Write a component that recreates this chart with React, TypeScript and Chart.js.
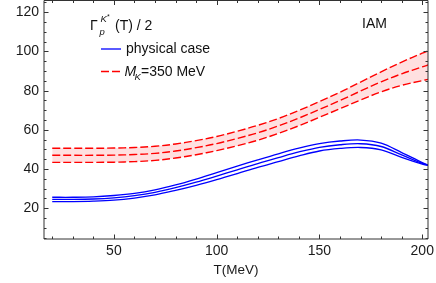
import React, { useEffect, useRef } from "react";
import { Chart, registerables } from "chart.js";

Chart.register(...registerables);

// Temperature grid (MeV)
const temps = [20, 30, 40, 50, 60, 70, 80, 90, 100, 110, 120, 130, 140, 150, 160, 170, 180, 190, 200, 203];

// M_K = 350 MeV band (upper / central / lower)
const redUpper = [50.6, 50.6, 50.6, 50.7, 51.0, 51.6, 52.8, 54.5, 56.6, 59.3, 62.3, 65.8, 69.9, 74.4, 79.2, 84.4, 89.6, 94.6, 99.1, 100.4];
const redMid = [47.0, 47.0, 47.0, 47.1, 47.4, 48.0, 49.2, 50.9, 53.0, 55.6, 58.5, 62.0, 66.0, 70.4, 75.0, 79.8, 84.5, 88.6, 92.1, 93.1];
const redLower = [43.4, 43.4, 43.4, 43.5, 43.8, 44.4, 45.6, 47.3, 49.4, 51.9, 54.7, 58.2, 62.1, 66.4, 70.8, 75.2, 79.4, 82.7, 85.1, 85.8];

// physical case (upper / central / lower)
const blueUpper = [25.6, 25.6, 25.8, 26.5, 27.6, 29.4, 31.9, 34.9, 38.2, 41.5, 44.7, 47.8, 50.7, 53.0, 54.3, 54.8, 53.2, 48.4, 43.3, 42.0];
const blueMid = [24.5, 24.5, 24.7, 25.3, 26.4, 28.1, 30.5, 33.3, 36.4, 39.6, 42.8, 45.8, 48.7, 51.1, 52.4, 52.9, 51.5, 47.2, 42.9, 41.9];
const blueLower = [23.4, 23.4, 23.6, 24.1, 25.2, 26.8, 29.1, 31.7, 34.6, 37.7, 40.9, 43.8, 46.7, 49.2, 50.5, 51.0, 49.8, 46.0, 42.5, 41.8];

// ticks
const xMajor = [50, 100, 150, 200];
const xMinor = [20, 30, 40, 60, 70, 80, 90, 110, 120, 130, 140, 160, 170, 180, 190];
const yMajor = [20, 40, 60, 80, 100, 120];
const yMinor = [5, 10, 15, 25, 30, 35, 45, 50, 55, 65, 70, 75, 85, 90, 95, 105, 110, 115, 125];

const X_MIN = 16;
const X_MAX = 202.8;
const Y_MIN = 4.3;
const Y_MAX = 126;

const FONT = "'Liberation Sans', Arial, sans-serif";
const RED = "rgb(255,0,0)";
const BLUE = "rgb(0,0,255)";
const DASH = [8, 3];

const pts = (ys: number[]) => temps.map((t, i) => ({ x: t, y: ys[i] }));

const framePlugin = {
  id: "frameTicks",
  afterDraw(chart: any) {
    const { ctx, chartArea } = chart;
    const { left, right, top, bottom } = chartArea;
    const xs = chart.scales.x;
    const ys = chart.scales.y;
    ctx.save();
    ctx.strokeStyle = "#333";
    ctx.lineWidth = 1;
    ctx.beginPath();
    ctx.rect(left, top, right - left, bottom - top);
    ctx.stroke();
    const majLen = 4.5;
    const minLen = 2.5;
    ctx.beginPath();
    const xt = (v: number, len: number) => {
      const px = Math.round(xs.getPixelForValue(v)) + 0.5;
      ctx.moveTo(px, bottom);
      ctx.lineTo(px, bottom - len);
      ctx.moveTo(px, top);
      ctx.lineTo(px, top + len);
    };
    const yt = (v: number, len: number) => {
      const py = Math.round(ys.getPixelForValue(v)) + 0.5;
      ctx.moveTo(left, py);
      ctx.lineTo(left + len, py);
      ctx.moveTo(right, py);
      ctx.lineTo(right - len, py);
    };
    xMajor.forEach((v) => xt(v, majLen));
    xMinor.forEach((v) => xt(v, minLen));
    yMajor.forEach((v) => yt(v, majLen));
    yMinor.forEach((v) => yt(v, minLen));
    ctx.stroke();

    // Legend / annotations
    ctx.fillStyle = "#111";
    ctx.textBaseline = "alphabetic";
    ctx.textAlign = "left";
    ctx.font = `14px ${FONT}`;
    ctx.fillText("\u0393", 90, 30);
    ctx.font = `italic 9.5px ${FONT}`;
    ctx.fillText("p", 99.5, 35);
    ctx.fillText("K", 100.5, 22);
    ctx.font = `7px ${FONT}`;
    ctx.fillText("*", 107, 19);
    ctx.font = `14px ${FONT}`;
    ctx.fillText("(T) / 2", 115, 30);

    ctx.fillText("IAM", 362, 28.3);

    // blue sample
    ctx.strokeStyle = BLUE;
    ctx.lineWidth = 1.3;
    ctx.beginPath();
    ctx.moveTo(101, 49);
    ctx.lineTo(121, 49);
    ctx.stroke();
    ctx.fillText("physical case", 126, 52.5);

    // red sample
    ctx.strokeStyle = RED;
    ctx.lineWidth = 1.4;
    ctx.setLineDash(DASH);
    ctx.beginPath();
    ctx.moveTo(101, 71.5);
    ctx.lineTo(121, 71.5);
    ctx.stroke();
    ctx.setLineDash([]);
    ctx.font = `italic 14px ${FONT}`;
    ctx.fillText("M", 124.5, 76);
    ctx.font = `italic 9.5px ${FONT}`;
    ctx.fillText("K", 134.5, 79.5);
    ctx.font = `14px ${FONT}`;
    ctx.fillText("=350 MeV", 141, 76);
    ctx.restore();
  },
};

export default function App() {
  const ref = useRef<HTMLCanvasElement | null>(null);
  useEffect(() => {
    document.body.style.margin = "0";
    const canvas = ref.current;
    if (!canvas) return;
    const lineBase = {
      pointRadius: 0,
      pointHoverRadius: 0,
      tension: 0.35,
      fill: false,
    };
    const chart = new Chart(canvas, {
      type: "line",
      data: {
        datasets: [
          { ...lineBase, data: pts(redUpper), borderColor: RED, borderWidth: 1.4, borderDash: DASH, fill: 2, backgroundColor: "rgba(255,0,0,0.12)" },
          { ...lineBase, data: pts(redMid), borderColor: RED, borderWidth: 1.4, borderDash: DASH },
          { ...lineBase, data: pts(redLower), borderColor: RED, borderWidth: 1.4, borderDash: DASH },
          { ...lineBase, data: pts(blueUpper), borderColor: BLUE, borderWidth: 1.3 },
          { ...lineBase, data: pts(blueMid), borderColor: BLUE, borderWidth: 1.3 },
          { ...lineBase, data: pts(blueLower), borderColor: BLUE, borderWidth: 1.3 },
        ],
      },
      options: {
        animation: false,
        responsive: false,
        events: [],
        layout: { padding: { left: 0, right: 8, top: 0.5, bottom: 0 } },
        plugins: { legend: { display: false }, tooltip: { enabled: false } },
        scales: {
          x: {
            type: "linear",
            min: X_MIN,
            max: X_MAX,
            grid: { display: false, drawTicks: false },
            border: { display: false },
            ticks: { font: { family: FONT, size: 14 }, color: "#1a1a1a", padding: 4, maxRotation: 0, autoSkip: false },
            title: { display: true, text: "T(MeV)", font: { family: FONT, size: 13.5 }, color: "#1a1a1a", padding: { top: 0, bottom: 5 } },
            afterBuildTicks: (s: any) => {
              s.ticks = xMajor.map((v) => ({ value: v }));
            },
            afterFit: (s: any) => {
              s.height = 44;
              s.paddingLeft = 0;
              s.paddingRight = 0;
            },
          },
          y: {
            type: "linear",
            min: Y_MIN,
            max: Y_MAX,
            grid: { display: false, drawTicks: false },
            border: { display: false },
            ticks: { font: { family: FONT, size: 14 }, color: "#1a1a1a", padding: 5, autoSkip: false },
            afterBuildTicks: (s: any) => {
              s.ticks = yMajor.map((v) => ({ value: v }));
            },
            afterFit: (s: any) => {
              s.width = 44;
              s.paddingTop = 0;
              s.paddingBottom = 0;
            },
          },
        },
      },
      plugins: [framePlugin],
    });
    return () => chart.destroy();
  }, []);
  return (
    <div style={{ position: "absolute", left: 0, top: 0, width: 436, height: 283, background: "#fff" }}>
      <canvas ref={ref} width={436} height={283} style={{ display: "block" }} />
    </div>
  );
}
